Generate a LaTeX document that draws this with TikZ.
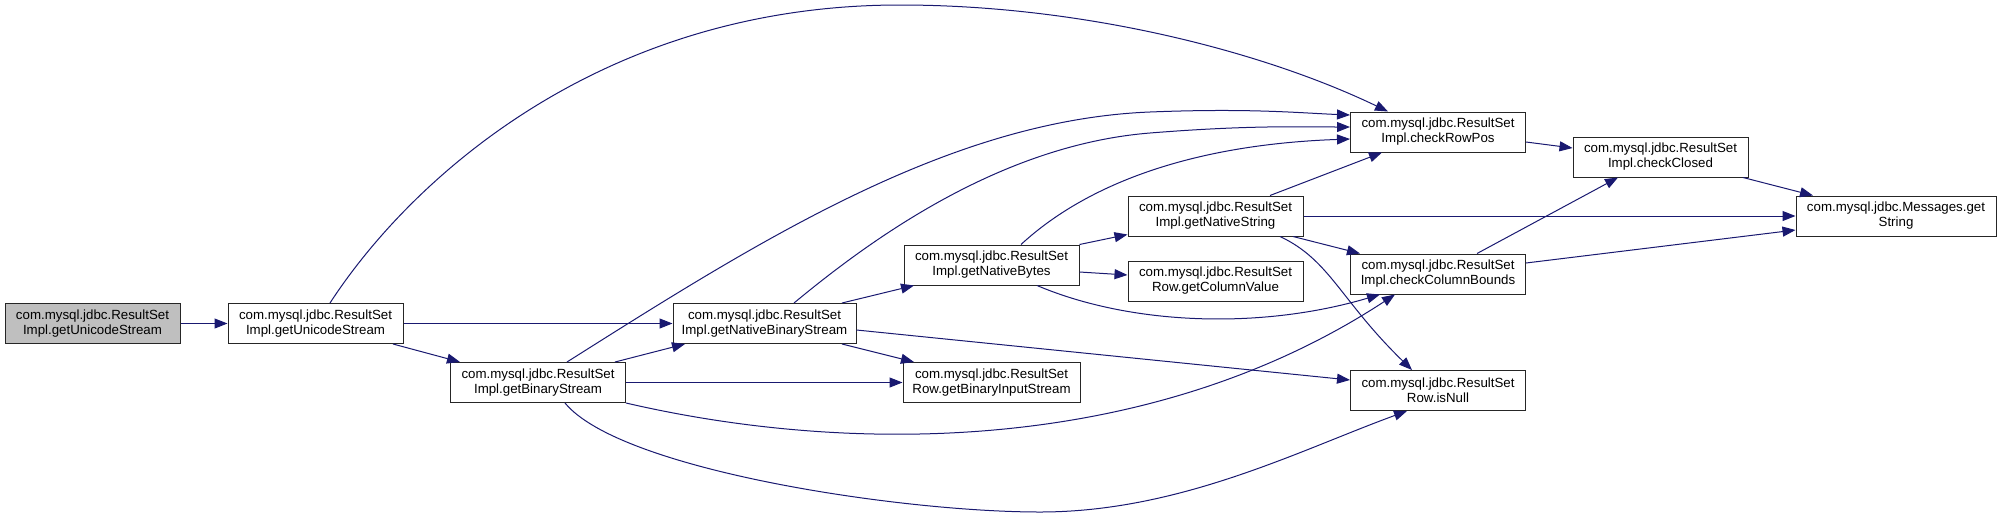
\documentclass[tikz,border=0pt]{standalone}
\usepackage{fontspec}
\setmainfont{Liberation Sans}
\usepackage{xcolor}
\usetikzlibrary{arrows.meta}

\definecolor{midnight}{RGB}{25,25,112}

\tikzset{
  fn/.style={draw=black!85, fill=white, line width=1pt, align=center,
    inner sep=0pt, minimum width=175pt, minimum height=40pt,
    font=\fontsize{13.3}{15}\selectfont},
  rootfn/.style={fn, fill=black!25},
  call/.style={draw=midnight, line width=1pt, -{Triangle[length=13pt,width=10pt]}},
}

\begin{document}
\begin{tikzpicture}[x=1pt, y=-1pt]
  \useasboundingbox (0,0) rectangle (2001,517);

  % Functions
  \node[rootfn] (root) at (92.5,323.5) {com.mysql.jdbc.ResultSet\\Impl.getUnicodeStream};
  \node[fn] (unicode) at (315.5,323.5) {com.mysql.jdbc.ResultSet\\Impl.getUnicodeStream};
  \node[fn] (binary) at (538,382.5) {com.mysql.jdbc.ResultSet\\Impl.getBinaryStream};
  \node[fn, minimum width=183pt] (natbin) at (764.5,323.5) {com.mysql.jdbc.ResultSet\\Impl.getNativeBinaryStream};
  \node[fn] (natbytes) at (991.5,265) {com.mysql.jdbc.ResultSet\\Impl.getNativeBytes};
  \node[fn, minimum width=177pt] (bininput) at (991.5,382.5) {com.mysql.jdbc.ResultSet\\Row.getBinaryInputStream};
  \node[fn] (natstr) at (1215.5,216) {com.mysql.jdbc.ResultSet\\Impl.getNativeString};
  \node[fn] (colval) at (1215.5,281) {com.mysql.jdbc.ResultSet\\Row.getColumnValue};
  \node[fn] (rowpos) at (1438,132) {com.mysql.jdbc.ResultSet\\Impl.checkRowPos};
  \node[fn] (colbounds) at (1438,274) {com.mysql.jdbc.ResultSet\\Impl.checkColumnBounds};
  \node[fn] (isnull) at (1438,390.5) {com.mysql.jdbc.ResultSet\\Row.isNull};
  \node[fn] (closed) at (1660.5,157) {com.mysql.jdbc.ResultSet\\Impl.checkClosed};
  \node[fn, minimum width=200pt] (msg) at (1896,216) {com.mysql.jdbc.Messages.get\\String};

  % Calls from the left part
  \draw[call] (root) -- (unicode);
  \draw[call] ([xshift=14.5pt]unicode.north) .. controls (410,180) and (600,5) .. (900,5)
    .. controls (1080,5) and (1260,50) .. ([xshift=-50pt]rowpos.north);
  \draw[call] (unicode) -- (natbin);
  \draw[call] ([xshift=77.5pt]unicode.south) -- ([xshift=-78pt]binary.north);
  \draw[call] ([xshift=29pt]binary.north) .. controls (760,240) and (950,120) .. (1150,112)
    .. controls (1250,108) and (1300,113) .. ([yshift=17pt]rowpos.west);
  \draw[call] ([xshift=77pt]binary.north) -- ([xshift=-79.5pt]natbin.south);
  \draw[call] (binary) -- (bininput);
  \draw[call] (binary.south east) .. controls (850,455) and (1150,455) .. ([xshift=-43pt]colbounds.south);
  \draw[call] ([xshift=27pt]binary.south) .. controls (620,470) and (900,512) .. (1040,512)
    .. controls (1180,512) and (1300,450) .. ([xshift=-31pt]isnull.south);

  % Calls from the native readers
  \draw[call] ([xshift=29.5pt]natbin.north) .. controls (870,240) and (1000,145) .. (1150,133)
    .. controls (1250,125) and (1300,127) .. ([yshift=5pt]rowpos.west);
  \draw[call] ([xshift=77.5pt]natbin.north) -- ([xshift=-77.5pt]natbytes.south);
  \draw[call] ([xshift=77.5pt]natbin.south) -- ([xshift=-77.5pt]bininput.north);
  \draw[call] ([yshift=-6.5pt]natbin.east) -- ([yshift=10.5pt]isnull.west);
  \draw[call] ([xshift=29.5pt]natbytes.north) .. controls (1080,190) and (1180,145) .. ([yshift=-7pt]rowpos.west);
  \draw[call] (natbytes.north east) -- ([yshift=2pt]natstr.south west);
  \draw[call] ([yshift=-7pt]natbytes.east) -- ([yshift=6pt]colval.west);
  \draw[call] ([xshift=45.5pt]natbytes.south) .. controls (1130,325) and (1260,330) .. ([xshift=-58pt]colbounds.south);
  \draw[call] ([xshift=54.5pt]natstr.north) -- ([xshift=-56pt]rowpos.south);
  \draw[call] (natstr) -- (msg);
  \draw[call] ([xshift=77.5pt]natstr.south) -- ([xshift=-78pt]colbounds.north);
  \draw[call] ([xshift=64.5pt]natstr.south) .. controls (1330,260) and (1340,300) .. ([xshift=-26pt]isnull.north);

  % Checks
  \draw[call] ([yshift=-10pt]rowpos.east) -- ([yshift=9pt]closed.west);
  \draw[call] ([xshift=39pt]colbounds.north) -- ([xshift=-42.5pt]closed.south);
  \draw[call] ([yshift=11pt]colbounds.east) -- ([yshift=-14pt]msg.west);
  \draw[call] ([xshift=82.5pt]closed.south) -- ([xshift=-83pt]msg.north);
\end{tikzpicture}
\end{document}
